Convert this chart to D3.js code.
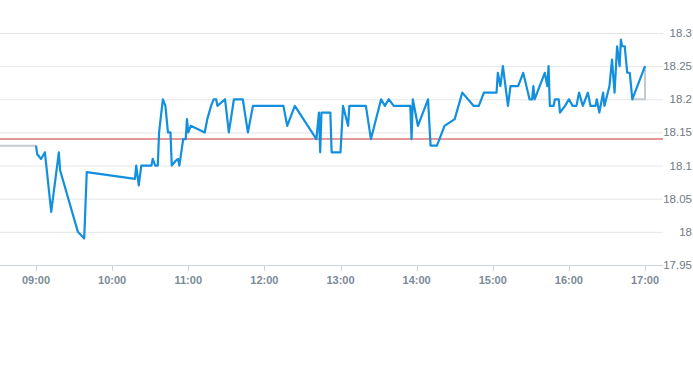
<!DOCTYPE html>
<html><head><meta charset="utf-8">
<script src="https://cdn.jsdelivr.net/npm/d3@7"></script>
<style>html,body{margin:0;padding:0;background:#fff;}svg{display:block;font-family:"Liberation Sans",Arial,sans-serif;}</style>
</head><body>
<svg id="c" width="693" height="365"></svg>
<script>
// Intraday trade data
const times = ["09:00","09:01","09:04","09:07","09:12","09:18","09:19","09:33","09:38","09:40",
"10:18","10:19","10:21","10:23","10:31","10:32","10:34","10:36","10:37","10:40","10:42","10:44","10:46","10:47","10:50","10:52","10:53","10:56","10:58","10:59",
"11:00","11:02","11:13","11:15","11:18","11:20","11:22","11:23","11:29","11:32","11:36","11:43","11:47","11:51",
"12:15","12:18","12:24","12:41","12:43","12:44","12:45","12:52","12:53",
"13:00","13:02","13:06","13:07","13:20","13:24","13:32","13:35","13:38","13:42","13:55","13:56","13:57",
"14:01","14:09","14:11","14:16","14:22","14:30","14:36","14:45","14:49","14:53",
"15:03","15:04","15:06","15:08","15:12","15:14","15:20","15:24","15:29","15:31","15:32","15:33","15:41","15:43","15:44","15:45","15:48","15:49","15:52","15:53","15:57",
"16:00","16:03","16:06","16:08","16:11","16:15","16:17","16:21","16:22","16:24","16:27","16:28","16:32","16:34","16:36","16:38","16:40","16:41","16:42","16:44","16:46","16:48","16:50",
"17:00"];
const prices = [18.13,18.117,18.11,18.12,18.03,18.12,18.093,18.0,17.99,18.09,
18.08,18.1,18.07,18.1,18.1,18.11,18.1,18.1,18.15,18.2,18.19,18.15,18.15,18.1,18.107,18.11,18.1,18.14,18.14,18.17,
18.15,18.16,18.15,18.17,18.19,18.2,18.2,18.19,18.2,18.15,18.2,18.2,18.15,18.19,
18.19,18.16,18.19,18.14,18.18,18.12,18.18,18.18,18.12,
18.12,18.19,18.16,18.19,18.19,18.14,18.2,18.19,18.2,18.19,18.19,18.14,18.2,
18.16,18.2,18.13,18.13,18.16,18.17,18.21,18.19,18.19,18.21,
18.21,18.24,18.22,18.25,18.19,18.22,18.22,18.24,18.2,18.2,18.22,18.2,18.24,18.22,18.25,18.19,18.19,18.2,18.2,18.18,18.19,
18.2,18.19,18.19,18.21,18.19,18.21,18.19,18.19,18.2,18.18,18.21,18.19,18.22,18.26,18.21,18.28,18.25,18.29,18.28,18.28,18.24,18.24,18.2,
18.25];
// Grey extension segments (pre-open and closing auction)
const preTimes = ["08:30","09:00"];
const prePrices = [18.13,18.13];
const postTimes = ["16:50","17:00","17:00"];
const postPrices = [18.2,18.2,18.25];
const prevClose = 18.14;
const yTicks = [17.95,18,18.05,18.1,18.15,18.2,18.25,18.3];
const xTickLabels = ["09:00","10:00","11:00","12:00","13:00","14:00","15:00","16:00","17:00"];

const parse = d3.timeParse("%H:%M");
const svg = d3.select("#c");
const plotLeft = 0, plotRight = 663, plotTop = 33, plotBottom = 265;

const x = d3.scaleTime().domain([parse("09:00"), parse("17:00")]).range([36, 645]);
const y = d3.scaleLinear().domain([17.95, 18.3]).range([plotBottom, plotTop]);

// gridlines
svg.append("g").selectAll("line").data(yTicks).join("line")
  .attr("x1", plotLeft).attr("x2", plotRight)
  .attr("y1", d => y(d) + 0.5).attr("y2", d => y(d) + 0.5)
  .attr("stroke", d => d === 17.95 ? "#ccd3da" : "#e6e6e6").attr("stroke-width", 1);

// y labels on the right
const fmt = d => String(+d.toFixed(2));
svg.append("g").selectAll("text").data(yTicks).join("text")
  .attr("x", 692).attr("y", d => y(d)).attr("dy", "0.35em")
  .attr("text-anchor", "end").attr("font-size", 11.5).attr("fill", "#6f7a86")
  .text(fmt);

// x axis ticks and labels
const xa = svg.append("g");
xa.selectAll("line").data(xTickLabels).join("line")
  .attr("x1", d => Math.round(x(parse(d))) + 0.5).attr("x2", d => Math.round(x(parse(d))) + 0.5)
  .attr("y1", plotBottom).attr("y2", plotBottom + 6)
  .attr("stroke", "#ccd3da").attr("stroke-width", 1);
xa.selectAll("text").data(xTickLabels).join("text")
  .attr("x", d => x(parse(d))).attr("y", plotBottom + 19)
  .attr("text-anchor", "middle").attr("font-size", 11).attr("font-weight", "bold")
  .attr("fill", "#7c8a98").text(d => d);

// previous close line
svg.append("line").attr("x1", plotLeft).attr("x2", plotRight)
  .attr("y1", Math.round(y(prevClose))).attr("y2", Math.round(y(prevClose)))
  .style("stroke", "#cf3030").style("stroke-width", "1.1px");

const line = d3.line().x(d => x(parse(d[0]))).y(d => y(d[1]));

svg.append("path").datum(d3.zip(preTimes, prePrices))
  .attr("d", line).attr("fill", "none").attr("stroke", "#c3cad2").attr("stroke-width", 2);
svg.append("path").datum(d3.zip(postTimes, postPrices))
  .attr("d", line).attr("fill", "none").attr("stroke", "#c3cad2").attr("stroke-width", 2);

svg.append("path").datum(d3.zip(times, prices))
  .attr("d", line).attr("fill", "none").attr("stroke", "#128fde").attr("stroke-width", 2.2)
  .attr("stroke-linejoin", "round");
</script>
</body></html>
